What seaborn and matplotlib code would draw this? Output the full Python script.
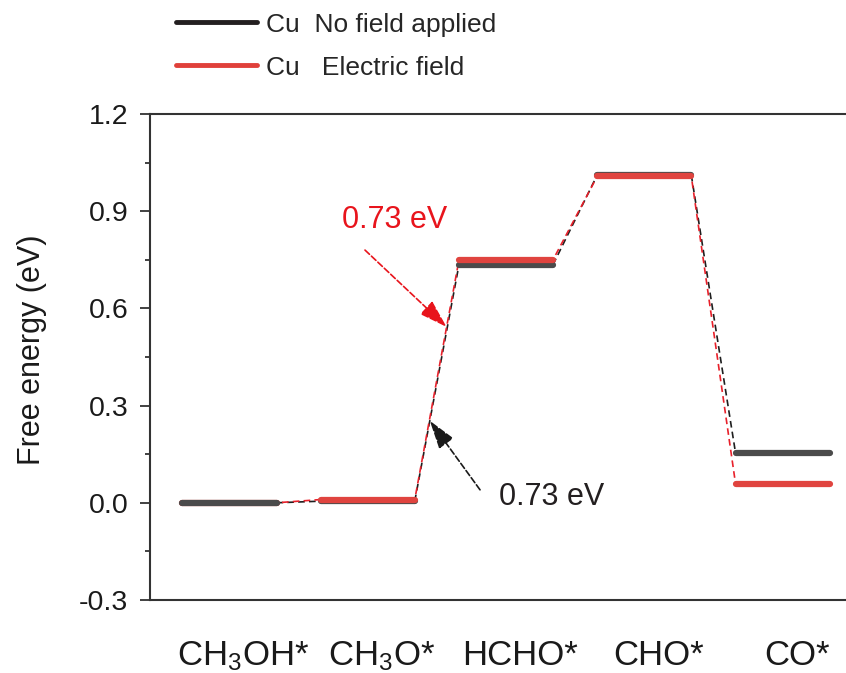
import matplotlib
matplotlib.use("Agg")
import matplotlib.pyplot as plt
import matplotlib.transforms as mtransforms
from matplotlib.lines import Line2D
from matplotlib.ticker import MultipleLocator, FormatStrFormatter
import pandas as pd
import seaborn as sns

# Reaction intermediates and free energies (eV)
stages = ["CH$_3$OH*", "CH$_3$O*", "HCHO*", "CHO*", "CO*"]
no_field = [0.0, 0.005, 0.735, 1.012, 0.154]
electric_field = [0.0, 0.010, 0.750, 1.008, 0.059]
series_names = ["Cu  No field applied", "Cu   Electric field"]
barrier_text = ["0.73 eV", "0.73 eV"]

HALF = 0.34  # half width of each energy level

sns.set_theme(style="ticks")
plt.rcParams["font.family"] = ["Liberation Sans", "DejaVu Sans"]
plt.rcParams["mathtext.fontset"] = "custom"
plt.rcParams["mathtext.rm"] = "Liberation Sans"
plt.rcParams["mathtext.it"] = "Liberation Sans:italic"
plt.rcParams["axes.unicode_minus"] = False

level_color = {series_names[0]: "#4b4b4b", series_names[1]: "#e0443f"}
link_color = {series_names[0]: "#1e1e1e", series_names[1]: "#e8202a"}
legend_color = {series_names[0]: "#231f20", series_names[1]: "#e0403a"}
values = {series_names[0]: no_field, series_names[1]: electric_field}

rows = []
for name, vals in values.items():
    for i, v in enumerate(vals):
        rows.append({"series": name, "stage": i, "x": i - HALF, "energy": v})
        rows.append({"series": name, "stage": i, "x": i + HALF, "energy": v})
levels = pd.DataFrame(rows)

fig = plt.figure(figsize=(8.46, 6.73), dpi=100)
ax = fig.add_axes([0.1773, 0.1085, 0.8227, 0.7221])

# horizontal energy levels
for i in range(len(stages)):
    order = [series_names[1], series_names[0]] if i == 0 else [series_names[0], series_names[1]]
    for k, name in enumerate(order):
        d = levels[(levels.stage == i) & (levels.series == name)]
        sns.lineplot(data=d, x="x", y="energy", color=level_color[name], lw=4.5,
                     solid_capstyle="round", estimator=None, sort=False,
                     legend=False, zorder=3 + k, ax=ax)

# dashed connectors between consecutive levels
for j, name in enumerate(series_names):
    vals = values[name]
    for i in range(len(vals) - 1):
        ax.plot([i + HALF, i + 1 - HALF], [vals[i], vals[i + 1]],
                color=link_color[name], lw=1.2,
                linestyle=(3.2 * j, (4, 2.5)), zorder=2)


def on_step(vals, i, t):
    x0, y0 = i + HALF, vals[i]
    x1, y1 = i + 1 - HALF, vals[i + 1]
    return x0 + t * (x1 - x0), y0 + t * (y1 - y0)


arrow_style = "-|>,head_length=0.8,head_width=0.25"
# barrier with electric field
tip = on_step(electric_field, 1, 0.72)
ax.annotate("", xy=tip, xytext=(0.98, 0.78),
            arrowprops=dict(arrowstyle=arrow_style, color="#e8141c", lw=1.2,
                            ls="--", mutation_scale=22, shrinkA=0, shrinkB=0),
            zorder=5)
ax.text(1.197, 0.872, barrier_text[1], color="#e8141c", fontsize=22,
        ha="center", va="center")
# barrier without field
tip = on_step(no_field, 1, 0.34)
ax.annotate("", xy=tip, xytext=(1.812, 0.040),
            arrowprops=dict(arrowstyle=arrow_style, color="#1a1a1a", lw=1.2,
                            ls="--", mutation_scale=22, shrinkA=0, shrinkB=0),
            zorder=5)
ax.text(2.333, 0.0185, barrier_text[0], color="#231f20", fontsize=22,
        ha="center", va="center")

# axes styling
ax.set_xlim(-0.575, 4.459)
ax.set_ylim(-0.3, 1.2)
ax.yaxis.set_major_locator(MultipleLocator(0.3))
ax.yaxis.set_minor_locator(MultipleLocator(0.15))
ax.yaxis.set_major_formatter(FormatStrFormatter("%.1f"))
ax.tick_params(axis="y", which="major", length=7.5, width=1.3, labelsize=20.5,
               pad=8, color="#333333", labelcolor="#1a1a1a")
ax.tick_params(axis="y", which="minor", length=3.5, width=1.3, color="#333333")
ax.set_xticks(range(len(stages)))
ax.set_xticklabels(stages)
ax.tick_params(axis="x", length=0, labelsize=25, pad=28, labelcolor="#1a1a1a")
shift = mtransforms.ScaledTranslation(14 / 100, 0, fig.dpi_scale_trans)
for lab in ax.get_xticklabels():
    lab.set_transform(lab.get_transform() + shift)
ax.set_xlabel("")
ax.set_ylabel("Free energy (eV)", fontsize=22, color="#1a1a1a")
ax.yaxis.set_label_coords(-0.148, 0.515)
for side in ["left", "top", "bottom"]:
    ax.spines[side].set_linewidth(1.5)
    ax.spines[side].set_color("#333333")
ax.spines["right"].set_visible(False)

handles = [Line2D([], [], color=legend_color[n], lw=3.5) for n in series_names]
fig.legend(handles, series_names, loc="upper left",
           bbox_to_anchor=(0.205, 0.985), frameon=False, fontsize=19,
           handlelength=3.05, handletextpad=0.35, labelspacing=0.72,
           borderpad=0.1, borderaxespad=0)

fig.savefig("out.png", dpi=100)
